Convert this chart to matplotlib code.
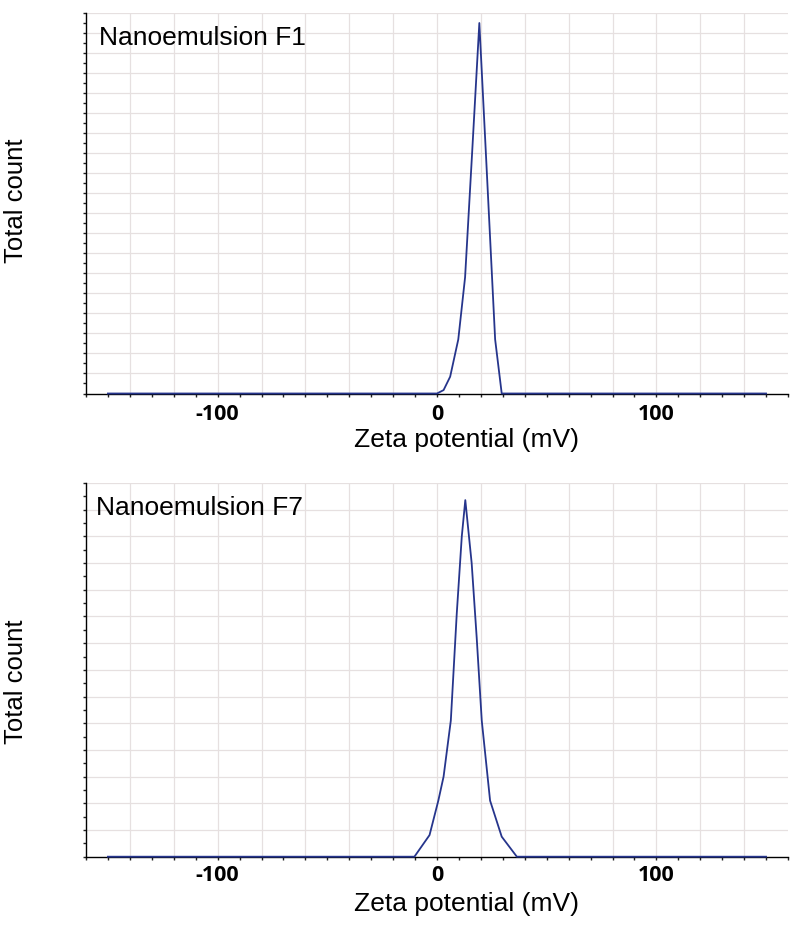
import matplotlib
matplotlib.use("Agg")
import matplotlib.pyplot as plt
from matplotlib.ticker import MultipleLocator, FixedLocator, NullFormatter

# ---- data ----
f1_zeta = [-150, 0, 3.0, 6.0, 9.7, 12.8, 16.0, 19.3, 22.6, 26.5, 29.5, 150]
f1_count = [0, 0, 1.7, 8.4, 27, 58, 120, 185, 113, 27, 0, 0]

f7_zeta = [-150, -10.3, -3.4, 0.6, 3.0, 6.3, 9.0, 11.3, 12.9, 15.8, 18.1, 20.4, 24.2, 29.5, 36.4, 150]
f7_count = [0, 0, 8.1, 21, 30, 51, 91, 120, 133.6, 110, 82, 51, 21, 7.5, 0, 0]

panel_titles = ["Nanoemulsion F1", "Nanoemulsion F7"]
x_ticks = [-100, 0, 100]
x_tick_labels = ["-100", "0", "100"]
x_label = "Zeta potential (mV)"
y_label = "Total count"

W, H = 800, 925
fig = plt.figure(figsize=(8, 9.25), dpi=100)

LINE = "#26358c"
GRID = "#e6e0e0"

def px_axes(left, top, right, bottom):
    return fig.add_axes([left / W, 1 - bottom / H, (right - left) / W, (bottom - top) / H])

panels = [
    dict(box=(86, 13, 788, 393.5), x=f1_zeta, y=f1_count, ymax=190, title=panel_titles[0],
         tx=0.0185, ty=0.916, ylab_y=201, xlab_y=440, pad=5),
    dict(box=(86, 483, 788, 856.7), x=f7_zeta, y=f7_count, ymax=140, title=panel_titles[1],
         tx=0.0142, ty=0.9144, ylab_y=682, xlab_y=904, pad=3.5),
]

for p in panels:
    ax = px_axes(*p["box"])
    ax.set_xlim(-160, 160)
    ax.set_ylim(0, p["ymax"])
    # grid
    for gx in range(-140, 141, 20):
        ax.axvline(gx, color=GRID, lw=0.9, zorder=0)
    for gy in range(10, p["ymax"] + 1, 10):
        ax.axhline(gy, color=GRID, lw=0.9, zorder=0)
    ax.plot(p["x"], p["y"], color=LINE, lw=1.3, zorder=3, clip_on=False)
    for s in ["top", "right"]:
        ax.spines[s].set_visible(False)
    for s in ["left", "bottom"]:
        ax.spines[s].set_color("black")
        ax.spines[s].set_linewidth(1.0)
    ax.xaxis.set_major_locator(FixedLocator(x_ticks))
    ax.set_xticklabels(x_tick_labels)
    ax.xaxis.set_minor_locator(MultipleLocator(10))
    ax.tick_params(axis="x", which="both", direction="out", length=2.5, width=1.0, color="#222222")
    ax.tick_params(axis="x", which="major", pad=p["pad"])
    for lab in ax.get_xticklabels():
        lab.set_fontfamily("Open Sans")
        lab.set_fontweight("bold")
        lab.set_fontsize(15.5)
    ax.yaxis.set_major_locator(MultipleLocator(10))
    ax.yaxis.set_minor_locator(MultipleLocator(5))
    ax.yaxis.set_major_formatter(NullFormatter())
    ax.tick_params(axis="y", which="both", direction="out", length=2.5, width=1.0, color="#222222")
    ax.set_facecolor("white")
    ax.text(p["tx"], p["ty"], p["title"], transform=ax.transAxes, ha="left", va="baseline",
            fontsize=19, family="Liberation Sans", color="black")
    fig.text(16 / W, 1 - p["ylab_y"] / H, y_label, rotation=90, ha="center", va="center",
             fontsize=18.5, family="Liberation Sans")
    fig.text(466.5 / W, 1 - p["xlab_y"] / H, x_label, ha="center", va="center",
             fontsize=19, family="Liberation Sans")

fig.savefig("out.png", dpi=100, facecolor="white")
